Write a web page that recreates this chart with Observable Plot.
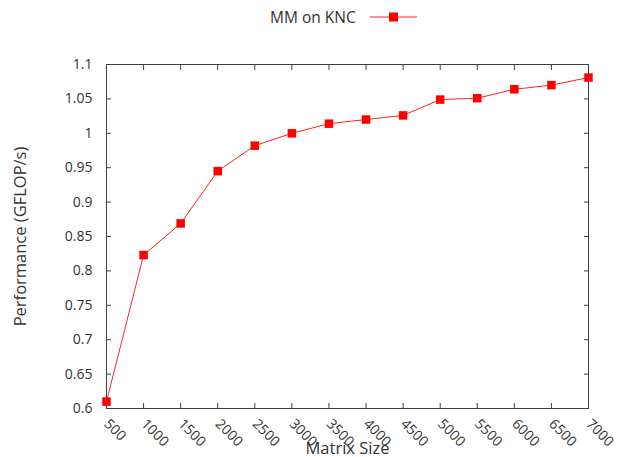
<!DOCTYPE html>
<html>
<head>
<meta charset="utf-8">
<script src="https://cdn.jsdelivr.net/npm/d3@7"></script>
<script src="https://cdn.jsdelivr.net/npm/@observablehq/plot@0.6"></script>
<style>
  body { margin: 0; background: #fff; font-family: "Open Sans", sans-serif; }
  #chart { width: 626px; height: 457px; position: relative; }
  .legend { position: relative; height: 34px; }
  .legend span { position: absolute; left: 270px; top: 6px; font-size: 15.5px; color: #333; }
  .legend svg { position: absolute; left: 368px; top: 11px; }
</style>
</head>
<body>
<div id="chart">
  <div class="legend">
    <span>MM on KNC</span>
    <svg width="52" height="12"><line x1="2" y1="6" x2="49" y2="6" stroke="#f22" stroke-width="1"/><rect x="21" y="1.5" width="9" height="9" fill="#f00"/></svg>
  </div>
</div>
<script>
// Matrix multiplication performance on KNC
const matrixSizes = [500, 1000, 1500, 2000, 2500, 3000, 3500, 4000, 4500, 5000, 5500, 6000, 6500, 7000];
const gflops = [0.610, 0.823, 0.869, 0.945, 0.982, 1.000, 1.014, 1.020, 1.026, 1.049, 1.051, 1.064, 1.070, 1.081];
const xTicks = [500, 1000, 1500, 2000, 2500, 3000, 3500, 4000, 4500, 5000, 5500, 6000, 6500, 7000];
const yTicks = [0.6, 0.65, 0.7, 0.75, 0.8, 0.85, 0.9, 0.95, 1, 1.05, 1.1];

const data = matrixSizes.map((size, i) => ({size, perf: gflops[i]}));
const axisColor = "#404040";
const textColor = "#333";
const fmtY = d => String(+d.toFixed(2));
const blank = () => "";

const chart = Plot.plot({
  width: 626,
  height: 423,
  marginTop: 30,
  marginLeft: 106,
  marginRight: 38,
  marginBottom: 49,
  style: {fontFamily: "Open Sans, sans-serif", fontSize: "14px", color: textColor, background: "white"},
  x: {domain: [500, 7000]},
  y: {domain: [0.6, 1.1]},
  marks: [
    Plot.frame({stroke: axisColor}),
    // bottom axis: inward ticks and rotated labels
    Plot.axisX({anchor: "bottom", ticks: xTicks, tickSize: -5, tickPadding: 18, tickRotate: 45,
      stroke: axisColor, tickFormat: d => String(d), label: null}),
    Plot.axisX({anchor: "bottom", ticks: [], label: "Matrix Size", labelAnchor: "center",
      labelOffset: 45, labelArrow: "none", fontSize: 16.5}),
    // mirrored top ticks
    Plot.axisX({anchor: "top", ticks: xTicks, tickSize: -5, stroke: axisColor, tickFormat: blank, label: null}),
    // left axis: inward ticks
    Plot.axisY({anchor: "left", ticks: yTicks, tickSize: -5, tickPadding: 19, stroke: axisColor,
      tickFormat: fmtY, label: null}),
    Plot.axisY({anchor: "left", ticks: [], label: "Performance (GFLOP/s)", labelAnchor: "center",
      labelOffset: 92, labelArrow: "none", fontSize: 16.5}),
    // mirrored right ticks
    Plot.axisY({anchor: "right", ticks: yTicks, tickSize: -5, stroke: axisColor, tickFormat: blank, label: null}),
    Plot.line(data, {x: "size", y: "perf", stroke: "#f22", strokeWidth: 1}),
    Plot.dot(data, {x: "size", y: "perf", symbol: "square", r: 4.8, fill: "#f00", stroke: "none"})
  ]
});
document.getElementById("chart").appendChild(chart);
</script>
</body>
</html>
